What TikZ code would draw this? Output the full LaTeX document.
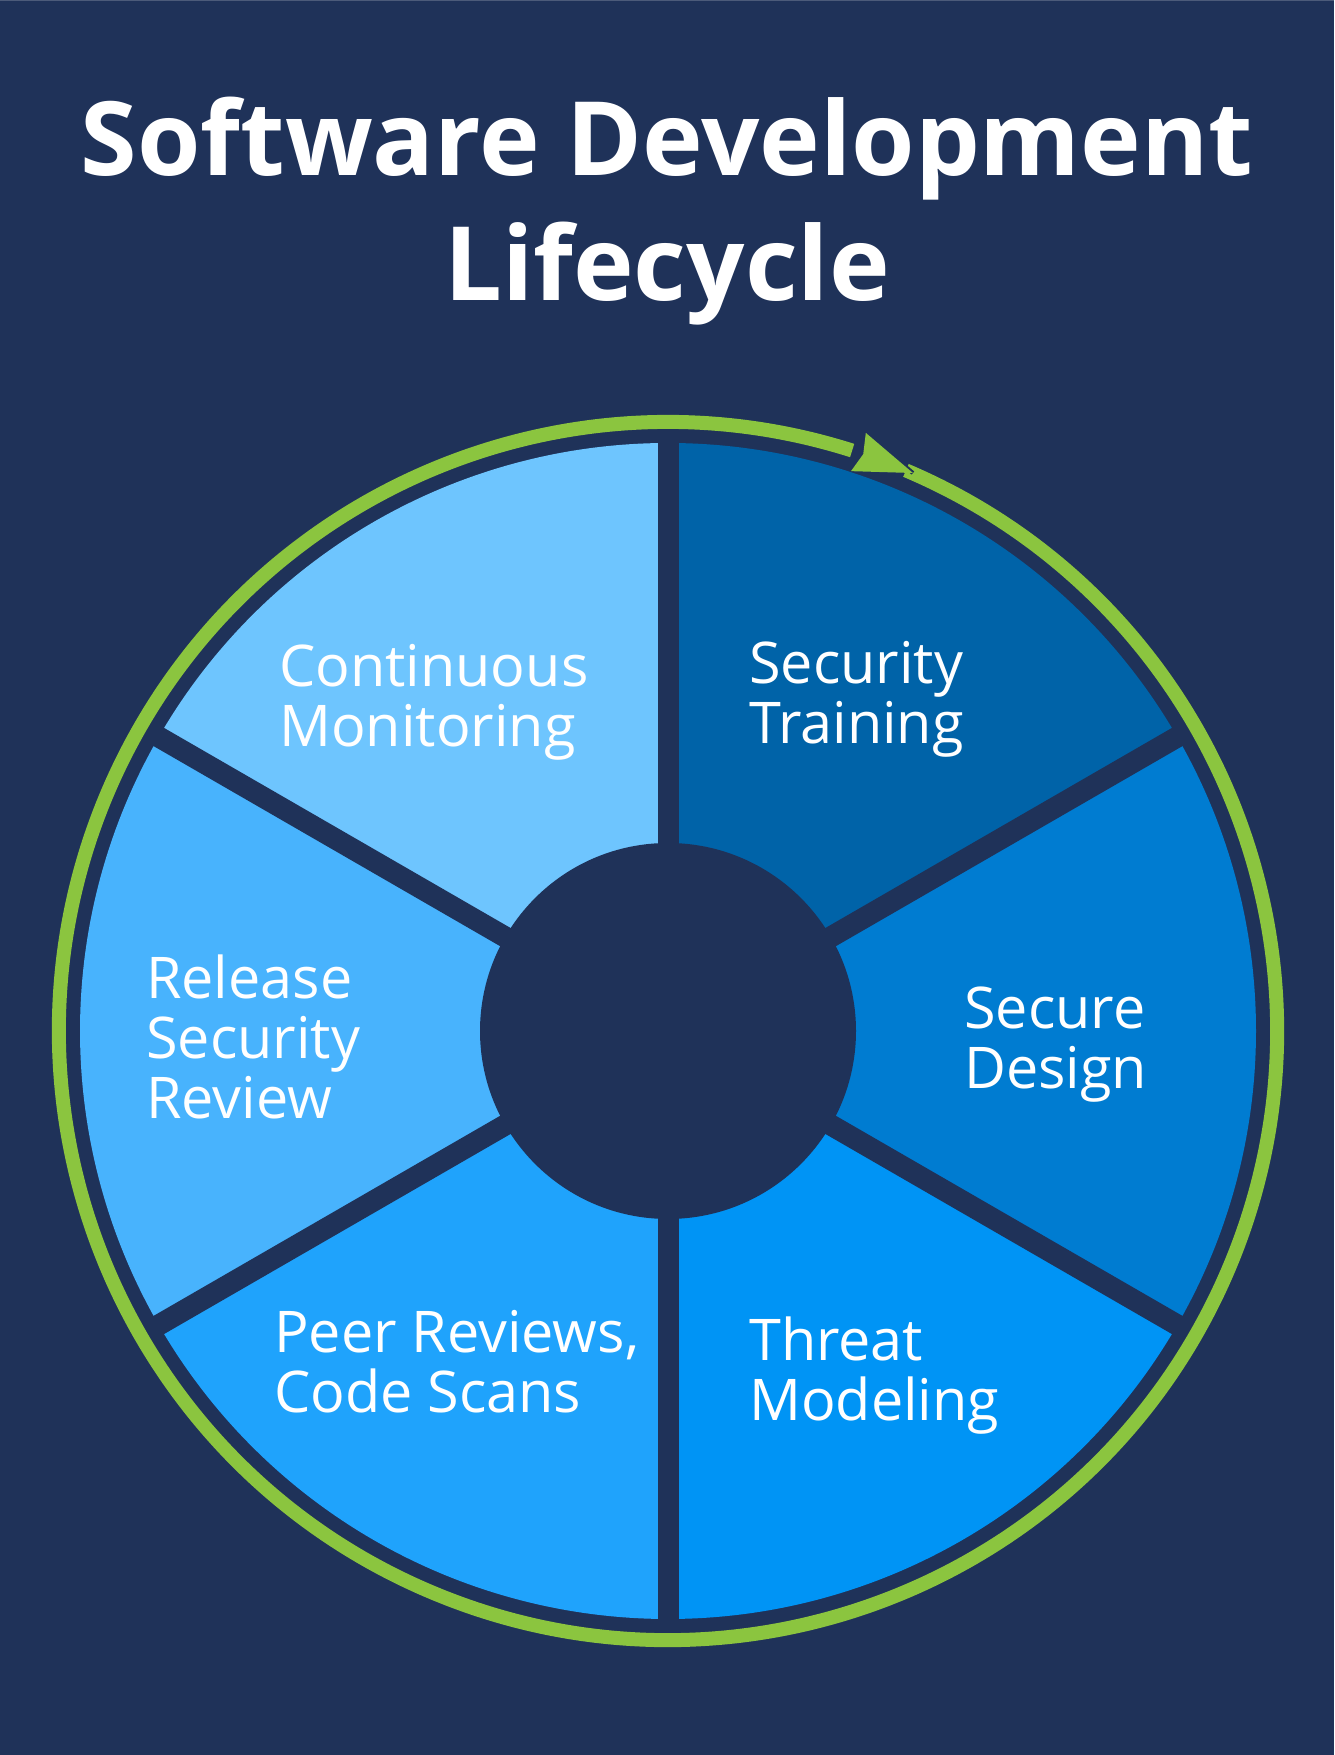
\documentclass[tikz,border=0pt]{standalone}
\usepackage{fontspec}
\setmainfont{Open Sans}
\definecolor{bg}{HTML}{1F3259}
\definecolor{ring}{HTML}{8BC53F}
\definecolor{cA}{HTML}{0063A8}
\definecolor{cB}{HTML}{007CD1}
\definecolor{cC}{HTML}{0094F5}
\definecolor{cD}{HTML}{1FA3FC}
\definecolor{cE}{HTML}{48B3FD}
\definecolor{cF}{HTML}{6EC5FE}
\begin{document}
\begin{tikzpicture}[x=1pt,y=1pt,
  lab/.style={text=white,font=\fontsize{57.5}{60}\selectfont,align=left,inner sep=0pt,anchor=base west},
  titlelab/.style={text=white,font=\fontsize{102.6}{125.7}\selectfont\bfseries,align=center,inner sep=0pt,anchor=base},
  gapline/.style={draw=bg,line width=21pt},
]
\useasboundingbox (0,0) rectangle (1334,1755);
\fill[bg] (0,0) rectangle (1334,1755);
\fill[bg!80!white] (0,1753.5) rectangle (1334,1755);
\coordinate (c) at (668,724);
% sectors
\fill[cA] (c) -- ([shift={(30:588)}]c) arc[start angle=30,end angle=90,radius=588] -- cycle;
\fill[cB] (c) -- ([shift={(-30:588)}]c) arc[start angle=-30,end angle=30,radius=588] -- cycle;
\fill[cC] (c) -- ([shift={(-90:588)}]c) arc[start angle=-90,end angle=-30,radius=588] -- cycle;
\fill[cD] (c) -- ([shift={(-150:588)}]c) arc[start angle=-150,end angle=-90,radius=588] -- cycle;
\fill[cE] (c) -- ([shift={(150:588)}]c) arc[start angle=150,end angle=210,radius=588] -- cycle;
\fill[cF] (c) -- ([shift={(90:588)}]c) arc[start angle=90,end angle=150,radius=588] -- cycle;
% gaps
\foreach \a in {30,90,150,210,270,330}
  \draw[gapline] (c) -- ([shift={(\a:596)}]c);
\fill[bg] (c) circle[radius=188];
% ring with arrowhead
\coordinate (rs) at ([shift={(67.0:609)}]c);
\draw[ring,line width=14pt] (rs) arc[start angle=67.0,end angle=-287.6,radius=609];
\coordinate (tip) at ([shift={(66.3:609.4)}]c);
\coordinate (bo) at ([shift={(71.7:630)}]c);
\coordinate (bi) at ([shift={(71.9:589)}]c);
\coordinate (bn) at ([shift={(71.3:609)}]c);
\draw[bg,line width=4pt] (bo) -- (tip);
\fill[ring] (tip) -- (bo) -- (bn) -- (bi) -- cycle;
% title
\node[titlelab] (title) at (667,1454) {Software Development\\Lifecycle};
% labels
\node[lab] (l1) at (749,1011) {Security\\Training};
\node[lab] (l2) at (964,666) {Secure\\Design};
\node[lab] (l3) at (749,334) {Threat\\Modeling};
\node[lab] (l4) at (274,342) {Peer Reviews,\\Code Scans};
\node[lab] (l5) at (146,636) {Release\\Security\\Review};
\node[lab] (l6) at (279,1008) {Continuous\\Monitoring};
\end{tikzpicture}
\end{document}
